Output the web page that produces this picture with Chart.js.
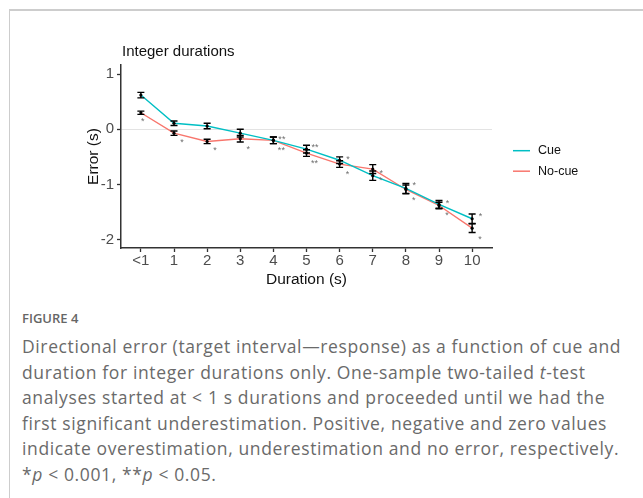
<!DOCTYPE html>
<html>
<head>
<meta charset="utf-8">
<script src="https://cdn.jsdelivr.net/npm/chart.js@4.4.1/dist/chart.umd.min.js"></script>
<style>
  html, body { margin:0; padding:0; background:#fff; width:643px; height:498px; overflow:hidden; }
  #frame { position:absolute; left:9px; top:9px; width:700px; height:600px; border-top:2px solid #cdcdcd; border-left:1.5px solid #cdcdcd; }
  #wrap { position:absolute; left:0; top:0; width:643px; height:290px; }
  #fig { position:absolute; left:22px; top:309px; font-family:"Open Sans", sans-serif; font-size:13px; color:#666; font-weight:600; }
  #cap { position:absolute; left:22px; top:334px; font-family:"Open Sans", sans-serif; font-size:17.5px; letter-spacing:0.62px; line-height:25.6px; color:#6a6a6a; white-space:nowrap; }
</style>
</head>
<body>
<div id="frame"></div>
<div id="wrap"><canvas id="c" width="643" height="290"></canvas></div>
<div id="fig">FIGURE 4</div>
<div id="cap">Directional error (target interval—response) as a function of cue and<br>duration for integer durations only. One-sample two-tailed <i>t</i>-test<br>analyses started at &lt; 1 s durations and proceeded until we had the<br>first significant underestimation. Positive, negative and zero values<br>indicate overestimation, underestimation and no error, respectively.<br>*<i>p</i> &lt; 0.001, **<i>p</i> &lt; 0.05.</div>
<script>
const categories = ['<1','1','2','3','4','5','6','7','8','9','10'];
const cueMean   = [0.62, 0.11, 0.06, -0.07, -0.20, -0.36, -0.56, -0.84, -1.07, -1.36, -1.62];
const cueErr    = [0.05, 0.04, 0.05, 0.07, 0.06, 0.07, 0.06, 0.085, 0.09, 0.07, 0.085];
const noCueMean = [0.30, -0.07, -0.22, -0.17, -0.20, -0.43, -0.63, -0.72, -1.09, -1.38, -1.79];
const noCueErr  = [0.03, 0.04, 0.04, 0.06, 0.06, 0.06, 0.06, 0.08, 0.08, 0.06, 0.08];
const sigCue    = ['', '', '', '', '**', '**', '*', '*', '*', '*', '*'];
const sigNoCue  = ['*', '*', '*', '*', '**', '**', '*', '*', '*', '*', '*'];
const yTicks = [-2, -1, 0, 1];
const seriesNames = ['Cue', 'No-cue'];
const seriesColors = ['#00BFC4', '#F8766D'];

const FONT = '"Liberation Sans", Arial, sans-serif';

const errorBarPlugin = {
  id: 'errbars',
  afterDatasetsDraw(chart) {
    const ctx = chart.ctx, x = chart.scales.x, y = chart.scales.y;
    const sets = [[cueMean, cueErr], [noCueMean, noCueErr]];
    ctx.save();
    ctx.strokeStyle = '#000';
    ctx.lineWidth = 1.4;
    sets.forEach(([m, e]) => {
      m.forEach((v, i) => {
        const px = x.getPixelForValue(i);
        const t = y.getPixelForValue(v + e[i]);
        const b = y.getPixelForValue(v - e[i]);
        ctx.beginPath();
        ctx.moveTo(px, t); ctx.lineTo(px, b);
        ctx.moveTo(px - 3.5, t); ctx.lineTo(px + 3.5, t);
        ctx.moveTo(px - 3.5, b); ctx.lineTo(px + 3.5, b);
        ctx.stroke();
        ctx.fillStyle = '#000';
        ctx.beginPath(); ctx.arc(px, y.getPixelForValue(v), 1.6, 0, Math.PI * 2); ctx.fill();
      });
    });
    // significance marks
    ctx.fillStyle = '#6e6e6e';
    ctx.font = '9px ' + FONT;
    ctx.textAlign = 'center';
    ctx.textBaseline = 'alphabetic';
    categories.forEach((c, i) => {
      const px = x.getPixelForValue(i);
      if (sigCue[i]) {
        const ty = y.getPixelForValue(cueMean[i] + cueErr[i]);
        ctx.fillText(sigCue[i], px + 8.5, ty + 5);
      }
      if (sigNoCue[i]) {
        const by = y.getPixelForValue(noCueMean[i] - noCueErr[i]);
        ctx.fillText(sigNoCue[i], px + (i === 0 ? 2 : 8), by + 9.5);
      }
    });
    ctx.restore();
  }
};

const decorPlugin = {
  id: 'decor',
  afterDraw(chart) {
    const ctx = chart.ctx, a = chart.chartArea;
    ctx.save();
    ctx.fillStyle = '#111';
    ctx.font = '15px ' + FONT;
    ctx.textBaseline = 'middle';
    ctx.textAlign = 'left';
    ctx.fillText('Integer durations', a.left + 1, 52);
    // legend
    ctx.font = '12.5px ' + FONT;
    chart.data.datasets.forEach((ds, i) => {
      const ly = 150.7 + i * 20.5;
      ctx.strokeStyle = ds.borderColor;
      ctx.lineWidth = 1.5;
      ctx.beginPath(); ctx.moveTo(513, ly); ctx.lineTo(530, ly); ctx.stroke();
      ctx.fillStyle = '#111';
      ctx.fillText(ds.label, 538, ly);
    });
    ctx.restore();
  }
};

new Chart(document.getElementById('c'), {
  type: 'line',
  data: {
    datasets: [
      { label: seriesNames[0], data: cueMean.map((v, i) => ({x: i, y: v})), borderColor: seriesColors[0], backgroundColor: seriesColors[0], borderWidth: 1.4, pointRadius: 0, tension: 0 },
      { label: seriesNames[1], data: noCueMean.map((v, i) => ({x: i, y: v})), borderColor: seriesColors[1], backgroundColor: seriesColors[1], borderWidth: 1.4, pointRadius: 0, tension: 0 }
    ]
  },
  options: {
    responsive: false,
    animation: false,
    layout: { padding: { left: 84, top: 65, right: 151, bottom: 0 } },
    plugins: { legend: { display: false }, tooltip: { enabled: false }, title: { display: false } },
    scales: {
      x: {
        type: 'linear', min: -0.6, max: 10.6,
        afterBuildTicks: s => { s.ticks = categories.map((c, i) => ({value: i})); },
        afterFit: s => { s.height = 42; },
        ticks: { callback: v => categories[v], color: '#4d4d4d', font: { family: FONT, size: 15 }, padding: 0, autoSkip: false, maxRotation: 0 },
        grid: { drawOnChartArea: false, tickLength: 4, tickColor: '#333', tickWidth: 1.3 },
        border: { color: '#333', width: 1.5 },
        title: { display: true, text: 'Duration (s)', color: '#111', font: { family: FONT, size: 15.5 }, padding: { top: 0, bottom: 1 } }
      },
      y: {
        type: 'linear', min: -2.15, max: 1.165,
        afterBuildTicks: s => { s.ticks = yTicks.map(v => ({value: v})); },
        afterFit: s => { s.width = 37; },
        ticks: { color: '#4d4d4d', font: { family: FONT, size: 15 }, padding: 3 },
        grid: { drawOnChartArea: true, color: c => (c.tick && c.tick.value === 0) ? '#e3e3e3' : 'rgba(0,0,0,0)', lineWidth: 1, tickLength: 4, tickColor: '#333', tickWidth: 1.3 },
        border: { color: '#333', width: 1.5 },
        title: { display: true, text: 'Error (s)', color: '#111', font: { family: FONT, size: 15.5 }, padding: { top: 0, bottom: 0 } }
      }
    }
  },
  plugins: [errorBarPlugin, decorPlugin]
});
</script>
</body>
</html>
